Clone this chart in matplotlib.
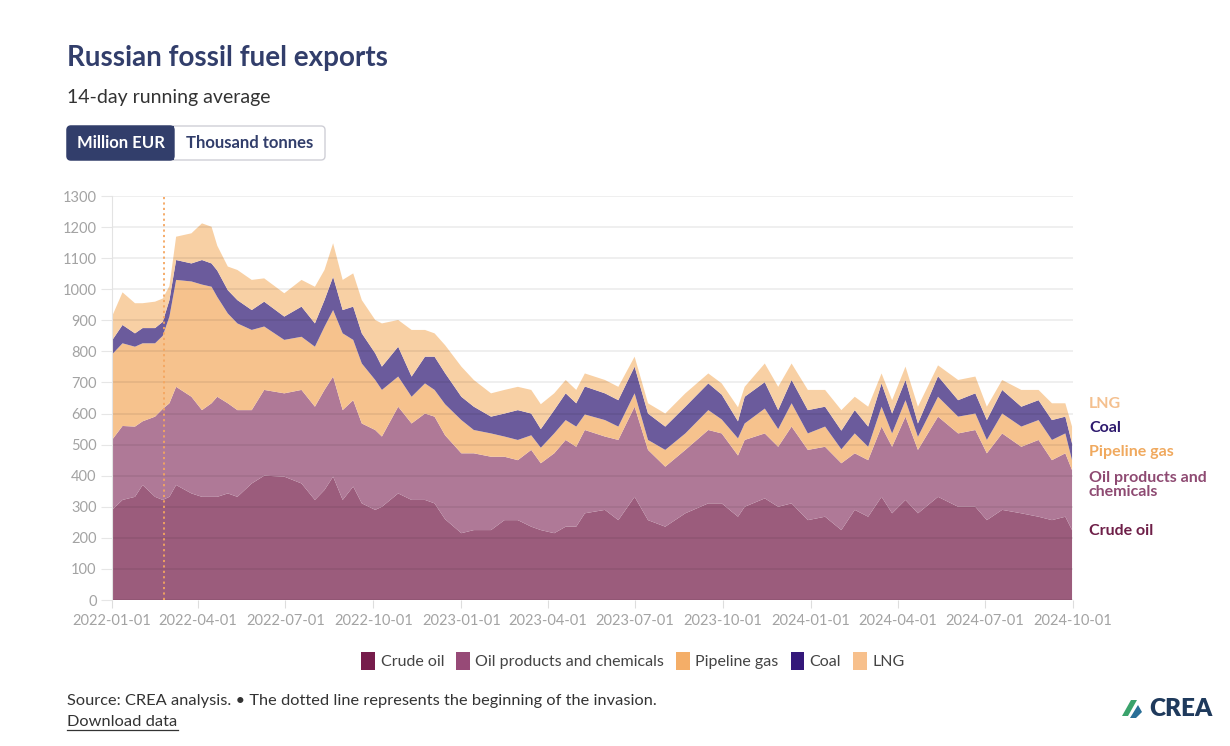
import matplotlib
matplotlib.use("Agg")
import matplotlib.pyplot as plt
import matplotlib.transforms as mtransforms
from matplotlib.patches import Patch, FancyBboxPatch, Rectangle, Polygon
from matplotlib.lines import Line2D
import pandas as pd

plt.rcParams["font.family"] = ["Lato", "DejaVu Sans"]

# ---------------- data (million EUR, 14-day running average) ----------------
dates = [
    "2022-01-01", "2022-01-12", "2022-01-25", "2022-02-02", "2022-02-15", "2022-02-23",
    "2022-03-02", "2022-03-09", "2022-03-25", "2022-04-05", "2022-04-15", "2022-04-21",
    "2022-05-02", "2022-05-12", "2022-05-27", "2022-06-09", "2022-06-30", "2022-07-18",
    "2022-08-01", "2022-08-11", "2022-08-20", "2022-08-30", "2022-09-10", "2022-09-19",
    "2022-10-03", "2022-10-10", "2022-10-27", "2022-11-10", "2022-11-24", "2022-12-04",
    "2022-12-15", "2023-01-01", "2023-01-14", "2023-02-01", "2023-02-15", "2023-03-01",
    "2023-03-15", "2023-03-25", "2023-04-08", "2023-04-20", "2023-05-01", "2023-05-10",
    "2023-05-31", "2023-06-14", "2023-07-01", "2023-07-15", "2023-08-02", "2023-08-23",
    "2023-09-16", "2023-09-30", "2023-10-17", "2023-10-24", "2023-11-14", "2023-11-28",
    "2023-12-12", "2023-12-29", "2024-01-16", "2024-02-02", "2024-02-16", "2024-03-01",
    "2024-03-15", "2024-03-26", "2024-04-09", "2024-04-22", "2024-05-13", "2024-06-03",
    "2024-06-21", "2024-07-03", "2024-07-19", "2024-08-08", "2024-08-26", "2024-09-09",
    "2024-09-23", "2024-09-30",
]
crude_oil = [
    290, 322, 332, 370, 332, 322, 332, 370, 343, 332, 332, 332,
    343, 332, 375, 400, 397, 375, 322, 354, 397, 322, 365, 311,
    290, 300, 343, 322, 322, 311, 260, 215, 225, 225, 257, 257,
    236, 225, 215, 236, 236, 279, 290, 257, 332, 257, 236, 279,
    311, 311, 268, 300, 327, 300, 311, 257, 268, 225, 290, 268,
    332, 279, 322, 279, 332, 300, 300, 257, 290, 279, 268, 257,
    268, 225,
]
oil_products = [
    225, 238, 226, 205, 258, 293, 301, 316, 311, 279, 301, 322,
    290, 279, 236, 276, 268, 301, 300, 322, 322, 289, 278, 257,
    257, 226, 279, 246, 278, 279, 270, 257, 247, 236, 204, 193,
    247, 215, 257, 279, 257, 268, 236, 258, 290, 226, 193, 204,
    236, 225, 197, 215, 209, 193, 247, 226, 225, 215, 182, 182,
    226, 214, 268, 204, 258, 236, 247, 215, 246, 214, 247, 193,
    204, 193,
]
pipeline_gas = [
    275, 266, 257, 251, 236, 235, 279, 344, 371, 404, 375, 321,
    289, 279, 258, 204, 172, 171, 193, 203, 214, 247, 194, 193,
    161, 150, 97, 86, 97, 86, 100, 107, 75, 75, 65, 65,
    47, 50, 64, 64, 65, 50, 53, 43, 43, 32, 54, 53,
    64, 45, 55, 53, 80, 57, 75, 53, 65, 45, 64, 43,
    64, 43, 53, 42, 64, 54, 53, 43, 64, 65, 64, 65,
    64, 32,
]
coal = [
    45, 59, 43, 49, 49, 45, 53, 64, 58, 79, 75, 85,
    75, 75, 64, 80, 75, 97, 75, 86, 107, 75, 107, 97,
    86, 75, 96, 65, 86, 107, 100, 75, 75, 54, 74, 96,
    70, 60, 75, 86, 75, 90, 86, 85, 86, 85, 75, 86,
    86, 80, 55, 86, 85, 61, 75, 75, 64, 60, 75, 65,
    75, 64, 65, 43, 66, 53, 65, 64, 76, 64, 64, 64,
    54, 54,
]
lng = [
    77, 105, 97, 80, 85, 75, 45, 75, 97, 118, 118, 80,
    76, 97, 97, 75, 75, 86, 118, 97, 108, 97, 107, 107,
    107, 139, 86, 150, 86, 75, 90, 97, 86, 75, 76, 75,
    76, 80, 54, 43, 43, 42, 43, 43, 32, 33, 42, 43,
    32, 36, 45, 32, 60, 75, 53, 65, 54, 66, 43, 64,
    32, 43, 43, 54, 35, 65, 54, 43, 32, 54, 33, 54,
    43, 54,
]
series_names = ["Crude oil", "Oil products and chemicals", "Pipeline gas", "Coal", "LNG"]
invasion_date = "2022-02-24"
y_ticks = list(range(0, 1301, 100))
x_tick_dates = ["2022-01-01", "2022-04-01", "2022-07-01", "2022-10-01", "2023-01-01",
                "2023-04-01", "2023-07-01", "2023-10-01", "2024-01-01", "2024-04-01",
                "2024-07-01", "2024-10-01"]

# ---------------- styles ----------------
fill_colors = ["#9b5c7c", "#af7997", "#f6c28d", "#6b5b9c", "#f8d0a4"]
legend_colors = ["#761c4b", "#974a77", "#f4ae68", "#34187a", "#f7c08c"]
label_colors = ["#6e1f48", "#8e4a72", "#f0a95e", "#2e1a6e", "#f4c08f"]
navy = "#323e6b"

W, H = 1230, 746
fig = plt.figure(figsize=(W / 100, H / 100), dpi=100)
fig.patch.set_facecolor("white")

ax = fig.add_axes([112 / W, 1 - 600 / H, (1073 - 112) / W, (600 - 196) / H])
x = pd.to_datetime(dates)
ax.stackplot(x, crude_oil, oil_products, pipeline_gas, coal, lng,
             colors=fill_colors, linewidth=0, zorder=2)

ax.set_ylim(0, 1300)
ax.set_xlim(pd.Timestamp("2022-01-01"), pd.Timestamp("2024-10-01"))
ax.set_yticks(y_ticks)
xt = pd.to_datetime(x_tick_dates)
ax.set_xticks(xt)
ax.set_xticklabels(x_tick_dates)

for yv in y_ticks:
    ax.axhline(yv, color=(0, 0, 0, 0.075), lw=1.2, zorder=3)

for s in ["top", "right", "bottom"]:
    ax.spines[s].set_visible(False)
ax.spines["left"].set_color("#e3e3e3")
ax.spines["left"].set_zorder(4)
ax.tick_params(axis="y", length=8, color="#e6e6e6", labelcolor="#a3a3a3",
               labelsize=10.5, pad=3)
ax.tick_params(axis="x", length=6, color="#dddddd", labelcolor="#a3a3a3",
               labelsize=10.5, pad=4)

ax.axvline(pd.Timestamp(invasion_date), color="#f4a660", lw=1.3,
           ls=(0, (1.2, 1.8)), zorder=5)

# right-side series labels
blend = mtransforms.blended_transform_factory(ax.transAxes, ax.transData)
right_labels = [
    ("Crude oil", 222, label_colors[0]),
    ("Oil products and\nchemicals", 370, label_colors[1]),
    ("Pipeline gas", 476, label_colors[2]),
    ("Coal", 553, label_colors[3]),
    ("LNG", 631, label_colors[4]),
]
for txt, yv, c in right_labels:
    ax.text(1.0166, yv, txt, transform=blend, color=c, fontsize=11.5,
            fontweight="bold", va="center", ha="left", linespacing=0.95,
            clip_on=False)

# ---------------- header ----------------
fig.text(67 / W, 1 - 58 / H, "Russian fossil fuel exports", fontsize=20,
         fontweight="bold", color=navy, va="center", ha="left")
fig.text(67 / W, 1 - 97 / H, "14-day running average", fontsize=14,
         color="#333333", va="center", ha="left")

pix = mtransforms.IdentityTransform()
outer = FancyBboxPatch((67, H - 160), 258, 34, boxstyle="round,pad=0,rounding_size=4",
                       transform=pix, facecolor="white", edgecolor="#cfcfd6", lw=1)
fig.add_artist(outer)
inner = FancyBboxPatch((67, H - 160), 107, 34, boxstyle="round,pad=0,rounding_size=4",
                       transform=pix, facecolor=navy, edgecolor=navy, lw=1)
fig.add_artist(inner)
fig.add_artist(Rectangle((166, H - 160), 8, 34, transform=pix, facecolor=navy,
                         edgecolor="none"))
fig.text(120.5 / W, 1 - 143 / H, "Million EUR", fontsize=12, fontweight="bold",
         color="white", va="center", ha="center")
fig.text(249.5 / W, 1 - 143 / H, "Thousand tonnes", fontsize=12, fontweight="bold",
         color=navy, va="center", ha="center")

# ---------------- legend ----------------
handles = [Patch(facecolor=c, edgecolor="none") for c in legend_colors]
fig.legend(handles, series_names, loc="center", bbox_to_anchor=(633 / W, 1 - 661 / H),
           ncol=5, frameon=False, fontsize=11.5, handlelength=0.85, handleheight=1.35,
           handletextpad=0.35, columnspacing=0.75, labelcolor="#444444")

# ---------------- footer ----------------
fig.text(67 / W, 1 - 701 / H,
         "Source: CREA analysis. \u2022 The dotted line represents the beginning of the invasion.",
         fontsize=11.8, color="#333333", va="center", ha="left")
fig.text(67 / W, 1 - 722 / H, "Download data", fontsize=11.8, color="#333333",
         va="center", ha="left")
fig.add_artist(Line2D([67, 178], [H - 730, H - 730], transform=pix, color="#333333", lw=0.9))

# CREA logo
fig.add_artist(Polygon([(1122, H - 716), (1131, H - 700), (1137, H - 700), (1128, H - 716)],
                       closed=True, transform=pix, facecolor="#3ba36c", edgecolor="none"))
fig.add_artist(Polygon([(1130, H - 718), (1138, H - 705), (1142, H - 712), (1136, H - 718)],
                       closed=True, transform=pix, facecolor="#2a6f97", edgecolor="none"))
fig.text(1213 / W, 1 - 709 / H, "CREA", fontsize=17.5, fontweight="heavy",
         color="#1f3a5c", va="center", ha="right")

fig.savefig("out.png", dpi=100, facecolor="white")
